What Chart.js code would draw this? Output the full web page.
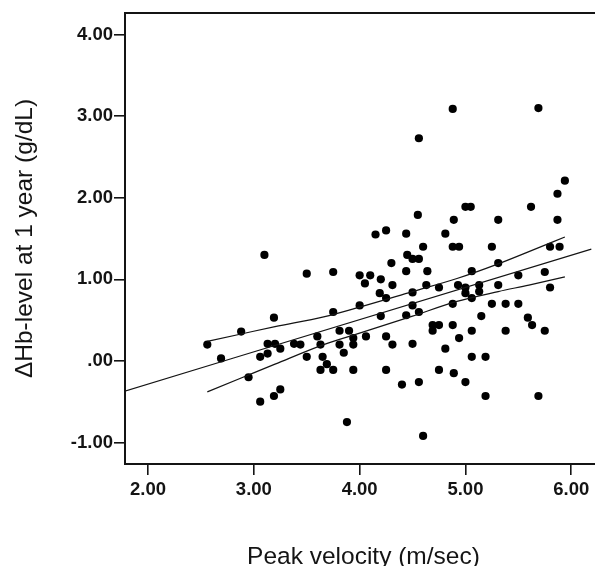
<!DOCTYPE html>
<html>
<head>
<meta charset="utf-8">
<title>Hb change vs peak velocity</title>
<script src="https://cdn.jsdelivr.net/npm/chart.js@4.4.1/dist/chart.umd.min.js"></script>
<style>
    html, body { margin: 0; padding: 0; overflow: hidden; background: #fff; }
</style>
</head>
<body>
<canvas id="scatterChart" width="606" height="580"></canvas>
<script>
// peak velocity (m/sec) for each patient
const velocity = [
    2.56, 2.69, 2.88, 2.95, 3.06, 3.06, 3.10, 3.13, 3.13, 3.19,
    3.19, 3.20, 3.25, 3.25, 3.38, 3.44, 3.50, 3.50, 3.60, 3.63,
    3.63, 3.65, 3.69, 3.75, 3.75, 3.75, 3.81, 3.81, 3.85, 3.88,
    3.90, 3.94, 3.94, 3.94, 4.00, 4.00, 4.05, 4.06, 4.10, 4.15,
    4.20, 4.19, 4.20, 4.25, 4.25, 4.25, 4.25, 4.30, 4.31, 4.31,
    4.40, 4.44, 4.44, 4.44, 4.45, 4.50, 4.50, 4.50, 4.50, 4.55,
    4.56, 4.56, 4.56, 4.56, 4.60, 4.60, 4.64, 4.63, 4.69, 4.75,
    4.69, 4.75, 4.75, 4.81, 4.81, 4.88, 4.89, 4.88, 4.94, 4.88,
    4.88, 4.89, 4.93, 4.94, 5.00, 5.05, 5.00, 5.00, 5.00, 5.06,
    5.06, 5.06, 5.06, 5.13, 5.13, 5.15, 5.19, 5.19, 5.25, 5.25,
    5.31, 5.31, 5.31, 5.38, 5.38, 5.50, 5.50, 5.59, 5.63, 5.62,
    5.69, 5.69, 5.75, 5.75, 5.80, 5.80, 5.87, 5.87, 5.89, 5.94
];

// change in Hb level at 1 year (g/dL), same order
const hbChange = [
    0.20, 0.03, 0.36, -0.20, 0.05, -0.50, 1.30, 0.21, 0.09, 0.53,
    -0.43, 0.21, 0.15, -0.35, 0.21, 0.20, 1.07, 0.05, 0.30, 0.20,
    -0.11, 0.05, -0.04, 1.09, 0.60, -0.11, 0.37, 0.20, 0.10, -0.75,
    0.37, 0.28, 0.20, -0.11, 1.05, 0.68, 0.95, 0.30, 1.05, 1.55,
    1.00, 0.83, 0.55, 1.60, 0.77, 0.30, -0.11, 1.20, 0.93, 0.20,
    -0.29, 1.56, 1.10, 0.56, 1.30, 1.25, 0.84, 0.68, 0.21, 1.79,
    2.73, 1.25, 0.60, -0.26, 1.40, -0.92, 1.10, 0.93, 0.44, 0.44,
    0.37, 0.90, -0.11, 1.56, 0.15, 3.09, 1.73, 1.40, 1.40, 0.70,
    0.44, -0.15, 0.93, 0.28, 1.89, 1.89, 0.90, 0.83, -0.26, 1.10,
    0.77, 0.37, 0.05, 0.93, 0.85, 0.55, 0.05, -0.43, 1.40, 0.70,
    1.73, 1.20, 0.93, 0.70, 0.37, 1.05, 0.70, 0.53, 0.44, 1.89,
    3.10, -0.43, 1.09, 0.37, 1.40, 0.90, 2.05, 1.73, 1.40, 2.21
];

// fit line, read at the left frame and at the right edge of the picture
const fitX = [1.78, 6.19];
const fitY = [-0.37, 1.37];

// 95% confidence band of the mean
const bandX = [2.56, 2.88, 3.20, 3.66, 4.00, 4.50, 4.92, 5.31, 5.60, 5.94];
const bandUpper = [0.24, 0.33, 0.42, 0.54, 0.66, 0.85, 1.01, 1.19, 1.34, 1.52];
const bandLower = [-0.38, -0.21, -0.04, 0.20, 0.34, 0.55, 0.73, 0.85, 0.93, 1.03];

const xTicks = [2, 3, 4, 5, 6];
const yTicks = [-1, 0, 1, 2, 3, 4];

document.addEventListener("DOMContentLoaded", function () {

    const ink = '#141414';
    const tickFont = { family: "'Liberation Sans', Arial, sans-serif", size: 18.5, weight: 'bold' };
    const titleFont = { family: "'Liberation Sans', Arial, sans-serif", size: 24.5, weight: 'normal' };

    function fmt(v) {
        // SPSS style: .00 instead of 0.00
        return v.toFixed(2).replace(/^(-?)0\./, '$1.');
    }

    function toPoints(xs, ys) {
        return xs.map((x, i) => ({ x: x, y: ys[i] }));
    }

    /**
     * top edge of the frame (the right edge falls outside the picture)
     */
    const frameTop = {
        id: 'frameTop',
        afterDraw(chart) {
            const { ctx, chartArea } = chart;
            ctx.save();
            ctx.strokeStyle = ink;
            ctx.lineWidth = 2;
            ctx.beginPath();
            ctx.moveTo(chartArea.left - 1, chartArea.top);
            ctx.lineTo(chartArea.right, chartArea.top);
            ctx.stroke();
            ctx.restore();
        }
    };

    const lineStyle = {
        type: 'line',
        borderColor: ink,
        borderWidth: 1.2,
        pointRadius: 0,
        fill: false,
        cubicInterpolationMode: 'monotone'
    };

    new Chart(document.getElementById("scatterChart"), {
        type: 'scatter',
        data: {
            datasets: [
                Object.assign({ data: toPoints(fitX, fitY) }, lineStyle),
                Object.assign({ data: toPoints(bandX, bandUpper) }, lineStyle),
                Object.assign({ data: toPoints(bandX, bandLower) }, lineStyle),
                {
                    data: toPoints(velocity, hbChange),
                    backgroundColor: '#000',
                    borderWidth: 0,
                    pointRadius: 4.1
                }
            ]
        },
        options: {
            responsive: false,
            animation: false,
            layout: { padding: { top: 13, right: 0, bottom: 0, left: 0 } },
            plugins: {
                legend: { display: false },
                tooltip: { enabled: false }
            },
            scales: {
                x: {
                    type: 'linear',
                    min: 1.782,
                    max: 6.29,
                    afterFit: s => { s.height = 116; },
                    afterBuildTicks: s => { s.ticks = xTicks.map(v => ({ value: v })); },
                    border: { display: true, color: ink, width: 2 },
                    grid: { drawOnChartArea: false, drawTicks: true, tickLength: 11, color: ink, lineWidth: 1.6 },
                    ticks: { color: ink, font: tickFont, padding: 4, callback: v => fmt(v) },
                    title: { display: true, text: 'Peak velocity (m/sec)', color: ink, font: titleFont, padding: { top: 0, bottom: 8 } }
                },
                y: {
                    type: 'linear',
                    min: -1.264,
                    max: 4.266,
                    afterFit: s => { s.width = 125; },
                    afterBuildTicks: s => { s.ticks = yTicks.map(v => ({ value: v })); },
                    border: { display: true, color: ink, width: 2 },
                    grid: { drawOnChartArea: false, drawTicks: true, tickLength: 11, color: ink, lineWidth: 1.6 },
                    ticks: { color: ink, font: tickFont, padding: 1, callback: v => fmt(v) },
                    title: { display: true, text: 'ΔHb-level at 1 year (g/dL)', color: ink, font: titleFont, padding: { top: 11, bottom: 0 } }
                }
            }
        },
        plugins: [frameTop]
    });
});
</script>
</body>
</html>
